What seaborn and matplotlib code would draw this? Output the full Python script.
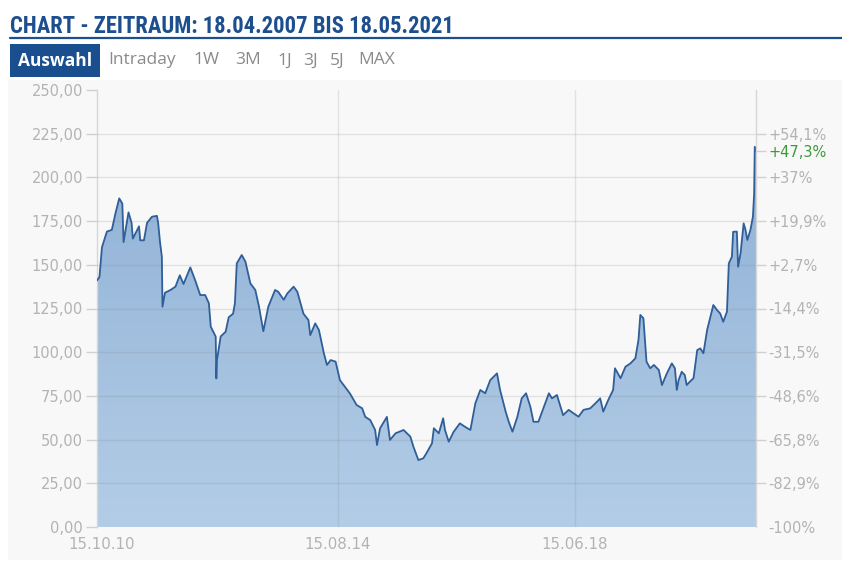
import numpy as np
import pandas as pd
import matplotlib
matplotlib.use("Agg")
import matplotlib.pyplot as plt
import matplotlib.dates as mdates
from matplotlib import font_manager
from matplotlib.colors import LinearSegmentedColormap
from matplotlib.patches import Rectangle
import seaborn as sns

# Price history: time as decimal years, price in EUR
years = [
    2010.72, 2010.76, 2010.80, 2010.88, 2010.96, 2011.02, 2011.08, 2011.13, 2011.15, 2011.23,
    2011.28, 2011.30, 2011.40, 2011.42, 2011.48, 2011.53, 2011.61, 2011.69, 2011.71, 2011.74,
    2011.77, 2011.78, 2011.82, 2011.91, 2011.99, 2012.06, 2012.12, 2012.23, 2012.31, 2012.39,
    2012.47, 2012.53, 2012.56, 2012.64, 2012.65, 2012.66, 2012.72, 2012.80, 2012.85, 2012.92,
    2012.95, 2012.98, 2013.06, 2013.12, 2013.20, 2013.28, 2013.34, 2013.41, 2013.49, 2013.60,
    2013.65, 2013.74, 2013.80, 2013.90, 2013.96, 2014.06, 2014.14, 2014.17, 2014.25, 2014.31,
    2014.39, 2014.44, 2014.50, 2014.58, 2014.65, 2014.73, 2014.81, 2014.92, 2015.01, 2015.06,
    2015.14, 2015.22, 2015.25, 2015.30, 2015.41, 2015.46, 2015.55, 2015.68, 2015.79, 2015.84,
    2015.92, 2016.00, 2016.05, 2016.14, 2016.17, 2016.25, 2016.32, 2016.35, 2016.41, 2016.49,
    2016.59, 2016.67, 2016.76, 2016.84, 2016.92, 2017.00, 2017.08, 2017.19, 2017.24, 2017.33,
    2017.38, 2017.44, 2017.52, 2017.59, 2017.66, 2017.73, 2017.78, 2017.86, 2017.95, 2018.03,
    2018.08, 2018.16, 2018.26, 2018.35, 2018.43, 2018.51, 2018.59, 2018.70, 2018.81, 2018.86,
    2018.91, 2018.99, 2019.07, 2019.10, 2019.19, 2019.27, 2019.35, 2019.43, 2019.48, 2019.51,
    2019.56, 2019.59, 2019.61, 2019.67, 2019.73, 2019.81, 2019.86, 2019.94, 2020.02, 2020.07,
    2020.10, 2020.13, 2020.18, 2020.23, 2020.26, 2020.31, 2020.37, 2020.43, 2020.48, 2020.53,
    2020.59, 2020.69, 2020.75, 2020.80, 2020.85, 2020.91, 2020.94, 2020.99, 2021.01, 2021.07,
    2021.09, 2021.13, 2021.18, 2021.21, 2021.24, 2021.29, 2021.33, 2021.35, 2021.36, 2021.38,
]
prices = [
    141.0, 143.0, 160.0, 169.0, 170.0, 179.6, 188.0, 185.0, 163.0, 180.0,
    174.0, 165.0, 172.0, 164.0, 164.0, 174.0, 177.5, 178.0, 174.0, 163.0,
    154.6, 126.0, 134.0, 135.6, 137.5, 144.0, 139.0, 148.5, 141.0, 132.7,
    132.7, 128.0, 114.6, 108.9, 85.0, 95.5, 109.0, 111.7, 120.0, 122.0,
    128.0, 150.8, 155.6, 151.8, 139.4, 135.6, 126.0, 112.0, 126.0, 135.6,
    134.6, 130.0, 133.7, 137.5, 134.6, 122.0, 118.4, 109.8, 116.5, 112.7,
    99.4, 92.7, 95.5, 94.6, 84.0, 80.2, 76.5, 69.8, 67.9, 63.0,
    61.2, 55.5, 46.9, 56.5, 63.0, 49.8, 53.6, 55.5, 51.7, 45.9,
    38.3, 39.3, 42.2, 47.9, 56.5, 53.6, 62.2, 55.5, 48.8, 54.5,
    59.3, 57.4, 55.5, 70.8, 78.4, 76.5, 84.0, 87.9, 78.4, 66.0,
    60.2, 54.5, 63.1, 73.6, 76.5, 68.8, 60.2, 60.2, 68.8, 76.5,
    73.6, 75.5, 64.0, 67.0, 65.0, 63.1, 67.0, 67.9, 71.7, 73.6,
    66.0, 72.6, 78.4, 90.8, 85.1, 91.7, 93.6, 96.5, 107.0, 121.3,
    119.4, 105.0, 94.6, 90.8, 92.7, 89.8, 81.2, 87.9, 93.6, 90.8,
    78.4, 84.1, 88.8, 86.9, 81.2, 83.1, 85.1, 101.2, 102.2, 99.4,
    112.7, 127.0, 124.1, 122.2, 117.4, 123.2, 150.8, 154.6, 168.9, 169.0,
    148.9, 156.6, 173.7, 170.0, 164.2, 170.0, 177.5, 190.9, 217.5, 215.1,
]

price_ticks = [0, 25, 50, 75, 100, 125, 150, 175, 200, 225, 250]
price_labels = ["0,00", "25,00", "50,00", "75,00", "100,00", "125,00",
                "150,00", "175,00", "200,00", "225,00", "250,00"]
pct_ticks = [0, 25, 50, 75, 100, 125, 150, 175, 200, 225]
pct_labels = ["-100%", "-82,9%", "-65,8%", "-48,6%", "-31,5%", "-14,4%",
              "+2,7%", "+19,9%", "+37%", "+54,1%"]
last_pct_label = "+47,3%"
date_ticks = ["2010-10-15", "2014-08-15", "2018-06-15"]
date_labels = ["15.10.10", "15.08.14", "15.06.18"]
range_tabs = ["Intraday", "1W", "3M", "1J", "3J", "5J", "MAX"]
tab_left_px = [108, 193, 235, 277, 303, 330, 358]
title = "CHART - ZEITRAUM: 18.04.2007 BIS 18.05.2021"


def to_timestamp(y):
    yr = int(np.floor(y))
    start = pd.Timestamp(year=yr, month=1, day=1)
    end = pd.Timestamp(year=yr + 1, month=1, day=1)
    return start + (end - start) * (y - yr)


def pick_family(candidates):
    for name in candidates:
        try:
            font_manager.findfont(font_manager.FontProperties(family=name, weight="bold"),
                                  fallback_to_default=False)
            return name
        except Exception:
            continue
    return "DejaVu Sans"


df = pd.DataFrame({"date": [to_timestamp(y) for y in years], "price": prices})

sns.set_style("white")
plt.rcParams["font.family"] = ["DejaVu Sans"]

W, H = 842, 563
fig = plt.figure(figsize=(W / 100, H / 100), dpi=100, facecolor="white")

# light panel behind the chart
fig.patches.append(Rectangle((8 / W, 3 / H), 1 - 8 / W, 1 - 83 / H, transform=fig.transFigure,
                             facecolor="#f8f8f8", edgecolor="none", zorder=-5))

# header: title (narrow bold face, sized to its banner width), rule, range selector
title_family = pick_family(["Liberation Sans Narrow", "DejaVu Sans Condensed", "Roboto Condensed",
                            "Open Sans Condensed", "Roboto"])
title_text = fig.text(10 / W, 1 - 33 / H, title, fontsize=20, weight="bold",
                      family=[title_family, "DejaVu Sans"], color="#1d4f8e", va="baseline")
renderer = fig.canvas.get_renderer()
tw = title_text.get_window_extent(renderer).width
title_text.set_fontsize(20 * 445 / tw)

fig.add_artist(plt.Line2D([10 / W, 1.0], [1 - 37.5 / H] * 2, transform=fig.transFigure,
                          color="#1d4f8e", lw=1.6))
fig.patches.append(Rectangle((10 / W, 1 - 77 / H), 90 / W, 33 / H, transform=fig.transFigure,
                             facecolor="#1a4f8f", edgecolor="none"))
fig.text(55 / W, 1 - 60.5 / H, "Auswahl", fontsize=12.5, weight="bold", family=["Open Sans", "DejaVu Sans"],
         color="white", ha="center", va="center")
for tab, px in zip(range_tabs, tab_left_px):
    fig.text(px / W, 1 - 60.5 / H, tab, fontsize=12.5, family=["Open Sans", "DejaVu Sans"],
             color="#8a8a8a", ha="left", va="center")

ax = fig.add_axes([97 / W, 1 - 527 / H, (756 - 97) / W, (527 - 90) / H])
ax.set_facecolor("#f8f8f8")

# gradient-filled area under the price curve
xnum = mdates.date2num(df["date"])
area = ax.fill_between(df["date"], df["price"], 0, facecolor="none", edgecolor="none")
cmap = LinearSegmentedColormap.from_list("area", ["#b3cde7", "#8badd3"])
grad = np.linspace(0, 1, 256).reshape(-1, 1)
img = ax.imshow(grad, extent=[xnum[0], xnum[-1], 0, 250], origin="lower", aspect="auto",
                cmap=cmap, zorder=1, interpolation="bilinear")
img.set_clip_path(area.get_paths()[0], transform=ax.transData)

sns.lineplot(data=df, x="date", y="price", ax=ax, color="#2f5e98", linewidth=1.3, zorder=3)

ax.set_xlim(df["date"].iloc[0], df["date"].iloc[-1])
ax.set_ylim(0, 250)
ax.set_xlabel("")
ax.set_ylabel("")

ax.set_yticks(price_ticks)
ax.set_yticklabels(price_labels)
ax.set_xticks(pd.to_datetime(date_ticks))
ax.set_xticklabels(date_labels)

ax.set_axisbelow(False)
ax.grid(True, axis="both", color="#808080", alpha=0.18, linewidth=1.0, zorder=2)
ax.xaxis.get_major_ticks()[0].gridline.set_visible(False)
ax.yaxis.get_major_ticks()[-1].gridline.set_visible(False)
ax.yaxis.get_major_ticks()[0].gridline.set_visible(False)

ax.tick_params(axis="y", length=8, width=1, color="#d0d0d0", labelsize=10.5,
               labelcolor="#b3b3b3", pad=2)
ax.tick_params(axis="x", length=0, labelsize=10.8, labelcolor="#b3b3b3", pad=7)
for side in ["top", "bottom", "right"]:
    ax.spines[side].set_visible(False)
ax.spines["left"].set_color("#d6d6d6")
ax.spines["left"].set_linewidth(1.0)

# right axis: change relative to the reference price
ax2 = ax.twinx()
ax2.set_ylim(0, 250)
ax2.set_yticks(pct_ticks + [prices[-1]])
ax2.set_yticklabels(pct_labels + [last_pct_label])
ax2.tick_params(axis="y", length=7, width=1, color="#d0d0d0", labelsize=10.5,
                labelcolor="#b3b3b3", pad=2)
ax2.get_yticklabels()[-1].set_color("#3d9a3d")
ax2.yaxis.get_major_ticks()[0].tick2line.set_visible(False)
for side in ["top", "bottom", "left"]:
    ax2.spines[side].set_visible(False)
ax2.spines["right"].set_color("#d6d6d6")
ax2.spines["right"].set_linewidth(1.0)
ax2.grid(False)

fig.savefig("out.png", dpi=100, facecolor=fig.get_facecolor())
